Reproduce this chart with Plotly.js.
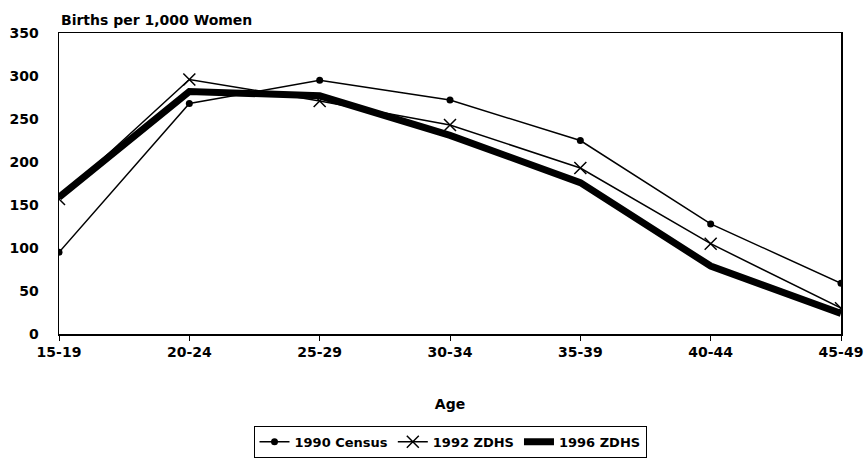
<!DOCTYPE html>
<html>
<head>
<meta charset="utf-8">
<script src="https://cdn.plot.ly/plotly-3.0.1.min.js"></script>
<style>html,body{margin:0;padding:0;background:#fff;}#chart{width:865px;height:462px;}</style>
</head>
<body>
<div id="chart"></div>
<script>
var ageGroups = ["15-19", "20-24", "25-29", "30-34", "35-39", "40-44", "45-49"];
var census1990 = [95, 268, 295, 272, 225, 128, 59];
var zdhs1992 = [157, 296, 271, 243, 193, 105, 30];
var zdhs1996 = [159, 282, 277, 231, 176, 79, 24];
var yTicks = [0, 50, 100, 150, 200, 250, 300, 350];

var fontBase = {family: "DejaVu Sans, Arial, sans-serif", size: 14, color: "#000", weight: "bold"};
var legendFont = {family: "DejaVu Sans, Arial, sans-serif", size: 13, color: "#000", weight: "bold"};

var traces = [
  {x: ageGroups, y: census1990, name: "1990 Census", type: "scatter", mode: "lines+markers",
   line: {color: "#000", width: 1.5}, marker: {symbol: "circle", size: 7, color: "#000"}},
  {x: ageGroups, y: zdhs1992, name: "1992 ZDHS", type: "scatter", mode: "lines+markers",
   line: {color: "#000", width: 1.5}, marker: {symbol: "x-thin", size: 12, line: {color: "#000", width: 1.5}}},
  {x: ageGroups, y: zdhs1996, name: "1996 ZDHS", type: "scatter", mode: "lines",
   line: {color: "#000", width: 7}}
];

var layout = {
  width: 865, height: 462,
  margin: {l: 59, r: 24, t: 33, b: 128, autoexpand: false},
  paper_bgcolor: "#fff", plot_bgcolor: "#fff",
  font: fontBase,
  showlegend: true,
  legend: {orientation: "h", x: 0.5, xanchor: "center", y: -0.305, yanchor: "top",
    bordercolor: "#000", borderwidth: 1, font: legendFont, itemwidth: 30, tracegroupgap: 0},
  xaxis: {
    type: "category", range: [0, 6], showline: true, linecolor: "#000", linewidth: 1.5,
    mirror: true, ticks: "outside", ticklen: 5, tickcolor: "#000", showgrid: false, zeroline: false,
    tickfont: fontBase, automargin: false,
    title: {text: "Age", font: fontBase, standoff: 40}
  },
  yaxis: {
    range: [0, 350], tickvals: yTicks, showline: true, linecolor: "#000", linewidth: 1.5,
    mirror: true, ticks: "", showgrid: false, zeroline: false, tickfont: fontBase,
    ticklabelstandoff: 16, automargin: false
  },
  annotations: [{
    text: "Births per 1,000 Women", xref: "paper", yref: "paper", x: 0, y: 1,
    xanchor: "left", yanchor: "bottom", yshift: 3, showarrow: false, font: fontBase
  }]
};

Plotly.newPlot("chart", traces, layout, {displayModeBar: false, staticPlot: true});
</script>
</body>
</html>
